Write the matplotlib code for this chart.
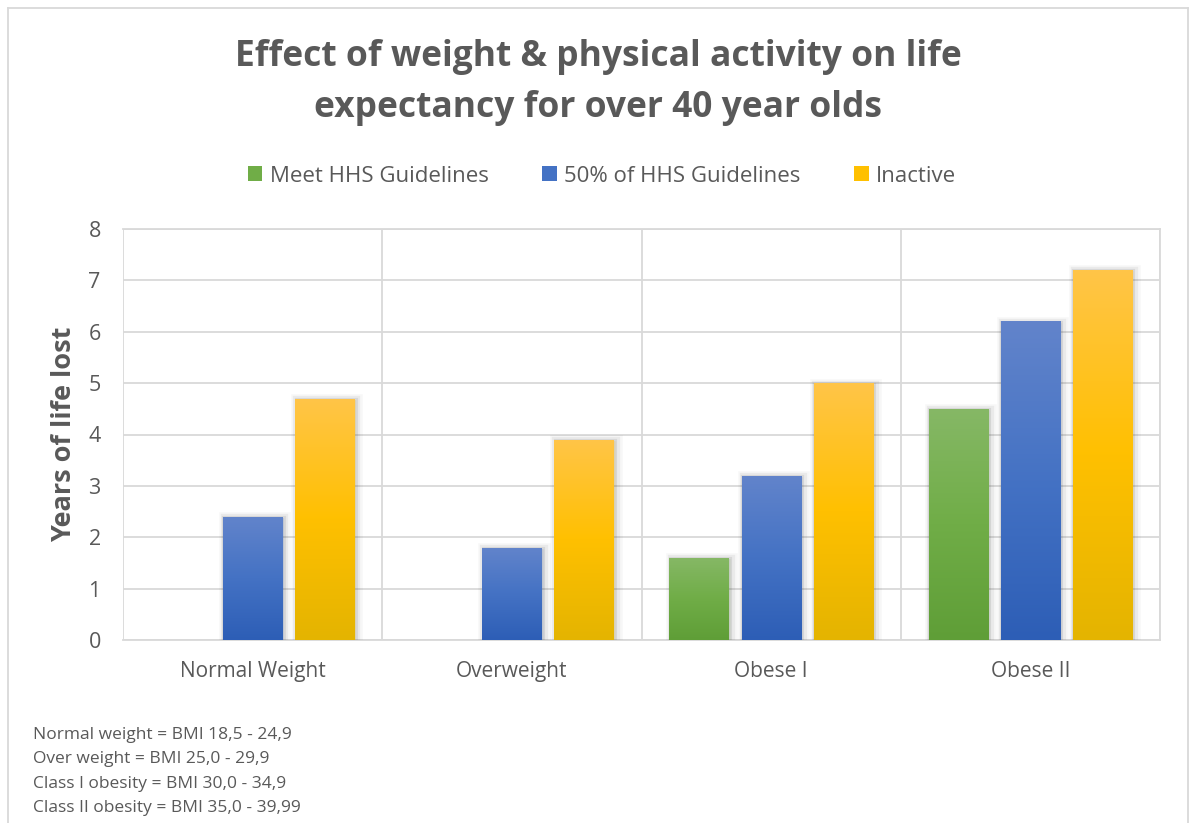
import matplotlib
matplotlib.use("Agg")
import matplotlib.pyplot as plt
import matplotlib.patheffects as pe
from matplotlib.colors import LinearSegmentedColormap
from matplotlib.lines import Line2D
from matplotlib.patches import Patch
import numpy as np

plt.rcParams["font.family"] = ["Open Sans", "DejaVu Sans"]

CATEGORIES = ["Normal Weight", "Overweight", "Obese I", "Obese II"]
SERIES = ["Meet HHS Guidelines", "50% of HHS Guidelines", "Inactive"]
MEET = [0, 0, 1.6, 4.5]
HALF = [2.4, 1.8, 3.2, 6.2]
INACTIVE = [4.7, 3.9, 5.0, 7.2]
FOOTNOTES = ["Normal weight = BMI 18,5 - 24,9",
             "Over weight = BMI 25,0 - 29,9",
             "Class I obesity = BMI 30,0 - 34,9",
             "Class II obesity = BMI 35,0 - 39,99"]

# top / middle / bottom colours of each series gradient
GRADS = [("#86b866", "#70ad47", "#5f9e37"),
         ("#6284cb", "#4472c4", "#2d5eb6"),
         ("#ffc548", "#ffc000", "#e4b400")]
TEXT = "#595959"
GRID = "#d9d9d9"

fig = plt.figure(figsize=(11.97, 8.23), dpi=100)
ax = fig.add_axes([123 / 1197, 1 - 640 / 823, (1160 - 123) / 1197, (640 - 229) / 823])

x = np.arange(len(CATEGORIES))
w = 0.228
offs = [-0.278, 0, 0.278]
grad = np.linspace(0, 1, 256).reshape(-1, 1)
for vals, off, cols, name in zip([MEET, HALF, INACTIVE], offs, GRADS, SERIES):
    cmap = LinearSegmentedColormap.from_list(name, [cols[2], cols[1], cols[0]])
    bars = ax.bar(x + off, vals, w, color=cols[1], zorder=3, label=name)
    for b in bars:
        if b.get_height() <= 0:
            b.set_visible(False)
            continue
        # soft drop shadow like the Excel original
        b.set_path_effects([
            pe.Stroke(offset=(1.5, -1), linewidth=9, foreground="k", alpha=0.03),
            pe.Stroke(offset=(1.5, -1), linewidth=6, foreground="k", alpha=0.05),
            pe.Stroke(offset=(1, -1), linewidth=3, foreground="k", alpha=0.08),
            pe.Normal()])
        x0, y0 = b.get_x(), b.get_y()
        im = ax.imshow(grad, cmap=cmap, origin="lower", aspect="auto",
                       extent=[x0, x0 + b.get_width(), y0, y0 + b.get_height()],
                       zorder=4, interpolation="bilinear")
        im.set_clip_path(b)

ax.set_xlim(-0.5, 3.5)
ax.set_ylim(0, 8)
ax.set_xticks(x)
ax.set_xticklabels(CATEGORIES)
ax.set_xticks(np.arange(-0.5, 3.6, 1), minor=True)
ax.set_yticks(range(9))
ax.grid(True, axis="y", color=GRID, lw=1.3, zorder=0)
ax.grid(True, axis="x", which="minor", color=GRID, lw=1.3, zorder=0)
ax.grid(False, axis="x", which="major")
for s in ax.spines.values():
    s.set_color(GRID)
    s.set_linewidth(1.3)
ax.spines["left"].set_visible(False)
ax.tick_params(which="both", length=0, colors=TEXT)
ax.tick_params(axis="x", pad=15, labelsize=15)
ax.tick_params(axis="y", pad=16, labelsize=15.5)
ax.set_ylabel("Years of life lost", fontsize=19.5, fontweight="bold", color=TEXT, labelpad=8)

fig.text(0.5, 1 - 57 / 823, "Effect of weight & physical activity on life",
         ha="center", va="center", fontsize=25.5, fontweight="bold", color=TEXT)
fig.text(0.5, 1 - 108 / 823, "expectancy for over 40 year olds",
         ha="center", va="center", fontsize=25.5, fontweight="bold", color=TEXT)

handles = [Patch(facecolor=c[1]) for c in GRADS]
fig.legend(handles, SERIES, loc="center", bbox_to_anchor=(0.503, 1 - 176 / 823), ncol=3,
           frameon=False, fontsize=16, labelcolor=TEXT, handlelength=0.65, handleheight=0.65,
           handletextpad=0.35, columnspacing=2.4)

for i, line in enumerate(FOOTNOTES):
    fig.text(33 / 1197, 1 - (735 + 24.3 * i) / 823, line, ha="left", va="center",
             fontsize=12.5, color=TEXT)

# chart-area border (bottom edge is cut off in the original)
for xs, ys in [([8, 8], [823, 8]), ([8, 1188], [8, 8]), ([1188, 1188], [8, 823])]:
    fig.add_artist(Line2D([v / 1197 for v in xs], [1 - v / 823 for v in ys],
                          color=GRID, lw=1.3))

fig.savefig("out.png", dpi=100, facecolor="white")
